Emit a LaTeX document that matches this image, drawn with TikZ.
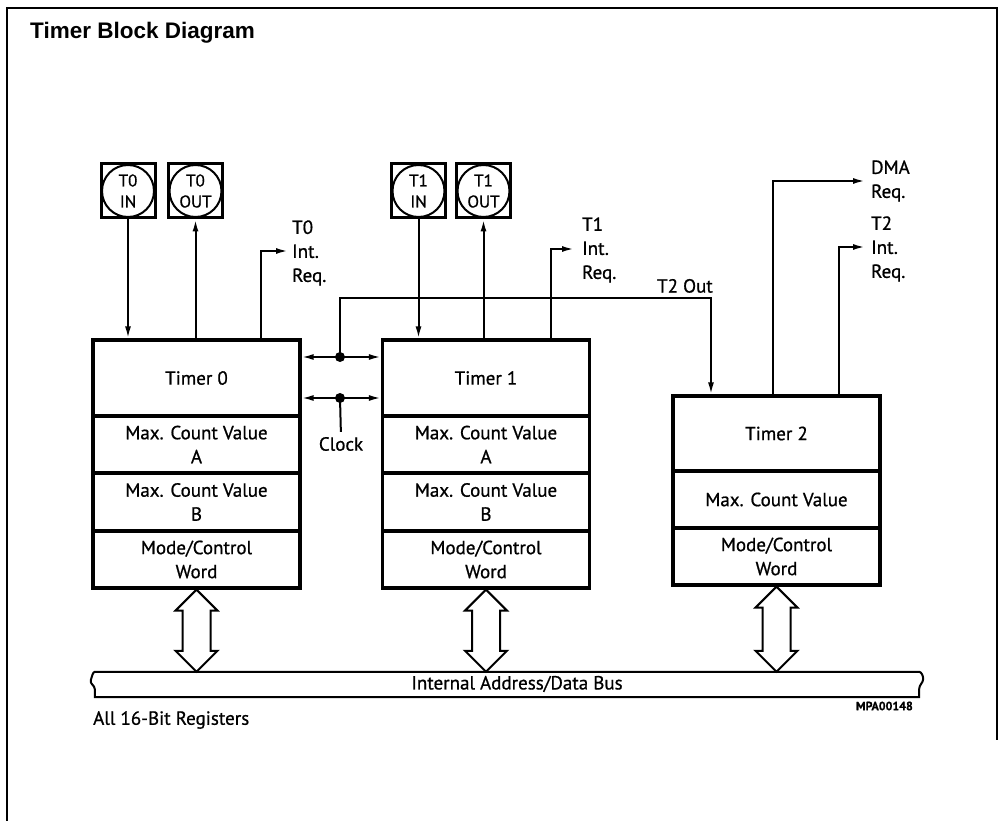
\documentclass[tikz,border=0pt]{standalone}
\usepackage{fontspec}
\setmainfont{PT Sans}[FakeBold=0.8]
\newfontfamily\titlefont{Liberation Sans}
\usetikzlibrary{arrows.meta,calc}
\newcommand\busarrow[2]{%
  \draw[hollow] let \p1=(#1), \p2=(#2) in
   (\x1,\y1) -- (\x1+21pt,\y1-21pt) -- (\x1+14pt,\y1-21pt) -- (\x1+14pt,\y2+21pt)
   -- (\x1+21pt,\y2+21pt) -- (\x1,\y2) -- (\x1-21pt,\y2+21pt) -- (\x1-14pt,\y2+21pt)
   -- (\x1-14pt,\y1-21pt) -- (\x1-21pt,\y1-21pt) -- cycle;}
\begin{document}
\begin{tikzpicture}[x=1pt,y=-1pt,
  every node/.style={font=\fontsize{19}{24}\selectfont, inner sep=0pt},
  sect/.style={draw, line width=3.2pt, align=center, minimum width=207pt},
  pin/.style={draw, line width=3pt, minimum size=54pt, inner sep=0pt, align=center,
              font=\fontsize{17}{21}\selectfont},
  conn/.style={line width=2pt},
  tip/.style={-{Latex[length=12pt,width=6pt]}},
  bi/.style={{Latex[length=12pt,width=6pt]}-{Latex[length=12pt,width=6pt]}},
  hollow/.style={draw, line width=2pt, fill=white, line join=miter},
  busline/.style={draw, line width=2pt},
  lab/.style={align=left, anchor=west},
]
\useasboundingbox (0,0) rectangle (999,821);

% frame
\draw[line width=2pt] (7,821) -- (7,8) -- (997,8) -- (997,740);
\node[anchor=west, font=\titlefont\bfseries\fontsize{22.5}{24}\selectfont] (title) at (30,33) {Timer Block Diagram};

% Timer 0
\node[sect, minimum height=76pt] (t0a) at (196.5,378) {Timer 0};
\node[sect, minimum height=57pt] (t0b) at (196.5,444.5) {Max. Count Value\\A};
\node[sect, minimum height=58pt] (t0c) at (196.5,502) {Max. Count Value\\B};
\node[sect, minimum height=57pt] (t0d) at (196.5,559.5) {Mode/Control\\Word};

% Timer 1
\node[sect, minimum height=76pt] (t1a) at (486,378) {Timer 1};
\node[sect, minimum height=57pt] (t1b) at (486,444.5) {Max. Count Value\\A};
\node[sect, minimum height=58pt] (t1c) at (486,502) {Max. Count Value\\B};
\node[sect, minimum height=57pt] (t1d) at (486,559.5) {Mode/Control\\Word};

% Timer 2
\node[sect, minimum height=75pt] (t2a) at (776.5,433.5) {Timer 2};
\node[sect, minimum height=57pt] (t2b) at (776.5,499.5) {Max. Count Value};
\node[sect, minimum height=57pt] (t2c) at (776.5,556.5) {Mode/Control\\Word};

% pins
\node[pin] (t0in) at (128,191) {T0\\IN};
\node[pin] (t0out) at (195.5,191) {T0\\OUT};
\node[pin] (t1in) at (418.5,191) {T1\\IN};
\node[pin] (t1out) at (483.5,191) {T1\\OUT};
\foreach \p in {t0in,t0out,t1in,t1out} \draw[line width=2pt] (\p) circle (26);

\draw[conn,tip] (t0in.south) -- (t0in.south |- t0a.north);
\draw[conn,tip] (t0out.south |- t0a.north) -- (t0out.south);
\draw[conn,tip] (t1in.south) -- (t1in.south |- t1a.north);
\draw[conn,tip] (t1out.south |- t1a.north) -- (t1out.south);

% interrupt requests
\coordinate (t0k) at (261,251);
\node[lab] (t0lab) at (292,253) {T0\\Int.\\Req.};
\draw[conn,tip,shorten >=4pt] (t0k |- t0a.north) -- (t0k) -- (t0lab.west |- t0k);

\coordinate (t1k) at (551,249);
\node[lab] (t1lab) at (582,250) {T1\\Int.\\Req.};
\draw[conn,tip,shorten >=8pt] (t1k |- t1a.north) -- (t1k) -- (t1lab.west |- t1k);

\coordinate (t2k1) at (773,181);
\node[lab] (dmalab) at (871,181) {DMA\\Req.};
\draw[conn,tip,shorten >=6pt] (t2k1 |- t2a.north) -- (t2k1) -- (dmalab.west |- t2k1);

\coordinate (t2k2) at (839,247);
\node[lab] (t2lab) at (871,249) {T2\\Int.\\Req.};
\draw[conn,tip,shorten >=6pt] (t2k2 |- t2a.north) -- (t2k2) -- (t2lab.west |- t2k2);

% timer links
\coordinate (j1) at (340,357);
\coordinate (j2) at (340,398);
\draw[conn,bi] (j1 -| t0a.east) -- (j1 -| t1a.west);
\draw[conn,bi] (j2 -| t0a.east) -- (j2 -| t1a.west);
\fill (j1) circle (5);
\fill (j2) circle (5);
\node (clk) at (341,444) {Clock};
\draw[conn,shorten >=5pt] (j2) -- (clk.north);

\coordinate (t2o) at (711,298);
\draw[conn,tip] (j1) |- (t2o) -- (t2o |- t2a.north);
\node[anchor=south east] (t2outlab) at (713,293) {T2 Out};

% bus
\node[minimum width=824pt, minimum height=25pt] (bus) at (507,684.5) {};
\draw[busline] (bus.south west) -- ++(0,-8) .. controls +(0,-4) and +(-1,4) .. ++(-4,-9)
  .. controls +(1,-3) and +(-2,0) .. (bus.north west) -- (bus.north east)
  .. controls +(2,0) and +(0,-3) .. ++(4,7) .. controls +(0,4) and +(0,-4) .. ++(-4,10)
  -- (bus.south east) -- cycle;
\node (bustext) at (517,684) {Internal Address/Data Bus};

\busarrow{t0d.south}{t0d.south |- bus.north}
\busarrow{t1d.south}{t1d.south |- bus.north}
\busarrow{t2c.south}{t2c.south |- bus.north}

\node[anchor=west] (note) at (93,720) {All 16-Bit Registers};
\node[anchor=east, font=\bfseries\fontsize{12}{14}\selectfont] (code) at (913,706) {MPA00148};
\end{tikzpicture}
\end{document}
